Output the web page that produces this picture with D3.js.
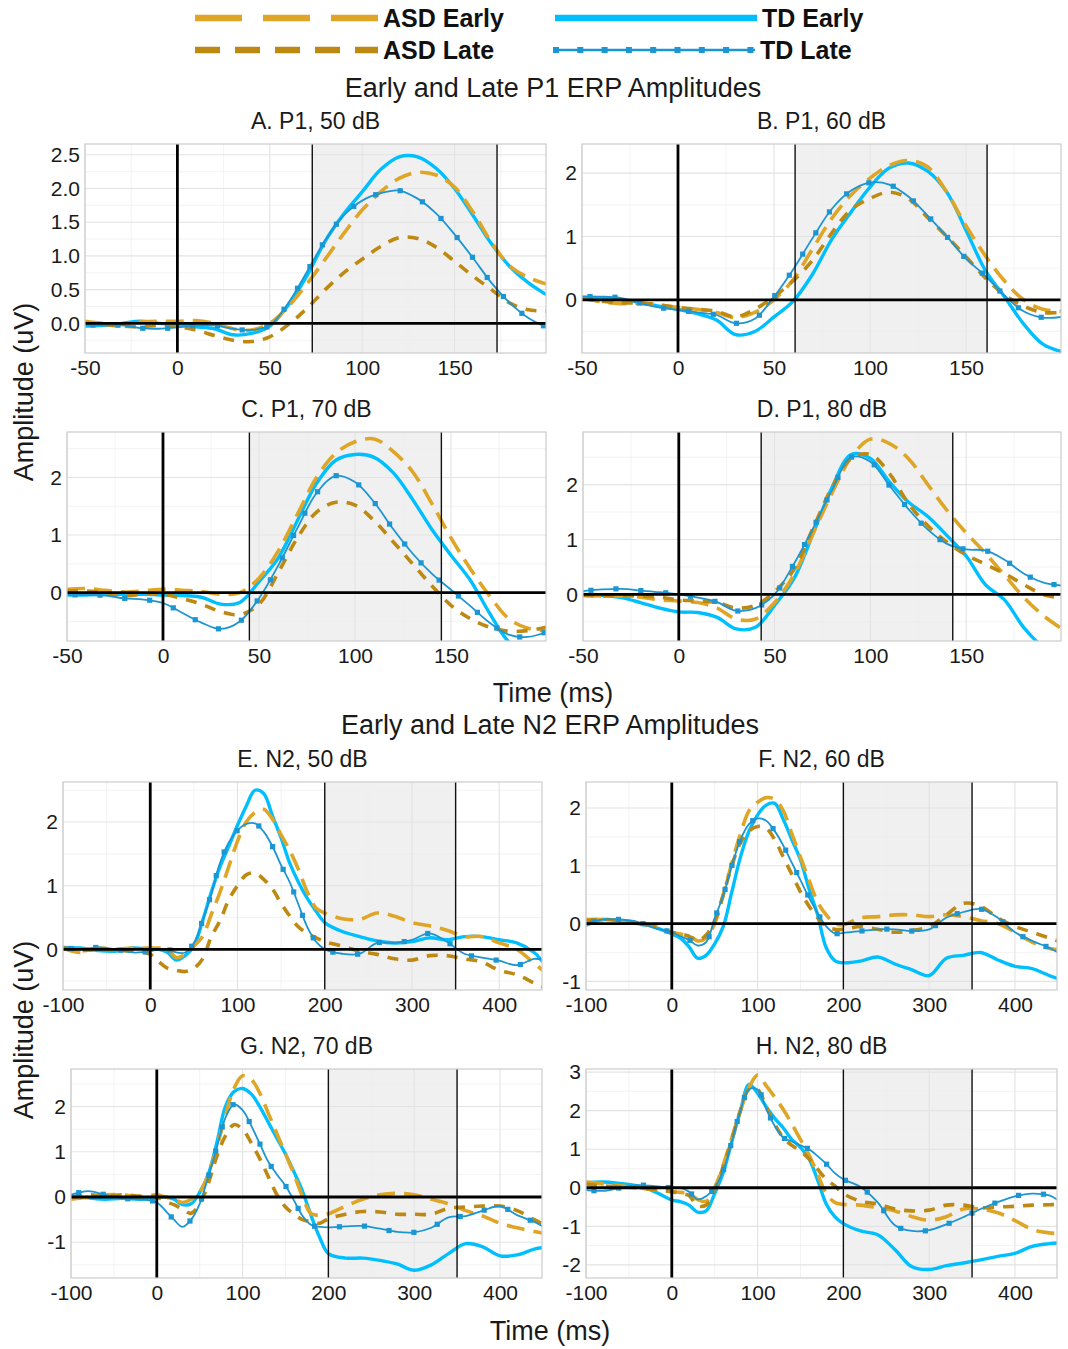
<!DOCTYPE html>
<html>
<head>
<meta charset="utf-8">
<script src="https://cdn.jsdelivr.net/npm/d3@7"></script>
<style>
  body { margin: 0; background: #fff; }
  text { font-family: "Liberation Sans", Arial, Helvetica, sans-serif; }
</style>
</head>
<body>
<svg id="chart" width="1068" height="1349"></svg>
<script>
// ERP waveforms, early vs late trials, ASD vs TD

// time grids (ms)
const p1Times = [-50,-40,-30,-20,-10,0,10,20,30,40,50,60,70,80,90,100,110,120,130,140,150,160,170,180,190,200];
const n2Times = [-100,-80,-60,-40,-20,0,10,20,30,40,50,60,70,80,90,100,110,120,130,140,150,160,170,180,190,200,220,240,260,280,300,320,340,360,380,400,420,440,450];

// A. P1, 50 dB
const aAsdEarly = [0.03,0.0,-0.01,0.02,0.03,0.03,0.04,0.0,-0.08,-0.1,0.0,0.25,0.58,0.95,1.33,1.68,1.95,2.15,2.24,2.2,2.02,1.65,1.2,0.85,0.68,0.58];
const aAsdLate  = [0.0,-0.02,-0.04,-0.05,-0.03,-0.05,-0.1,-0.18,-0.25,-0.27,-0.2,-0.02,0.22,0.5,0.75,0.95,1.14,1.27,1.26,1.13,0.92,0.7,0.5,0.3,0.2,0.18];
const aTdEarly  = [-0.04,-0.03,0.0,0.03,0.0,-0.02,-0.05,-0.08,-0.17,-0.15,-0.04,0.27,0.7,1.22,1.62,1.95,2.28,2.47,2.47,2.3,2.0,1.6,1.18,0.84,0.6,0.42];
const aTdLate   = [-0.02,-0.03,-0.03,-0.07,-0.08,-0.06,-0.03,-0.03,-0.08,-0.1,-0.03,0.3,0.76,1.23,1.6,1.82,1.93,1.97,1.85,1.63,1.32,0.97,0.6,0.3,0.08,-0.06];

// B. P1, 60 dB
const bAsdEarly = [0.03,-0.03,-0.06,-0.06,-0.08,-0.12,-0.15,-0.2,-0.28,-0.2,0.0,0.32,0.8,1.28,1.65,1.92,2.12,2.2,2.1,1.7,1.17,0.7,0.3,0.0,-0.15,-0.18];
const bAsdLate  = [0.02,-0.02,-0.05,-0.05,-0.08,-0.12,-0.15,-0.18,-0.27,-0.15,0.05,0.3,0.62,1.05,1.42,1.6,1.7,1.6,1.3,1.0,0.68,0.35,0.08,-0.1,-0.2,-0.2];
const bTdEarly  = [0.04,0.03,0.0,-0.04,-0.1,-0.15,-0.22,-0.32,-0.55,-0.5,-0.27,-0.02,0.4,0.95,1.38,1.78,2.08,2.16,2.03,1.7,1.1,0.47,0.05,-0.38,-0.7,-0.82];
const bTdLate   = [0.05,0.05,0.03,-0.05,-0.12,-0.16,-0.2,-0.24,-0.37,-0.3,0.05,0.48,0.97,1.43,1.72,1.85,1.82,1.63,1.33,1.0,0.65,0.38,0.07,-0.18,-0.28,-0.27];

// C. P1, 70 dB
const cAsdEarly = [0.06,0.07,0.04,0.01,0.03,0.06,0.04,0.02,-0.03,0.0,0.25,0.72,1.36,2.0,2.42,2.62,2.67,2.45,2.1,1.55,0.95,0.42,-0.05,-0.45,-0.62,-0.66];
const cAsdLate  = [0.03,0.03,0.0,-0.05,-0.03,-0.03,-0.1,-0.2,-0.33,-0.38,-0.2,0.35,0.95,1.4,1.57,1.52,1.25,0.88,0.5,0.12,-0.22,-0.45,-0.6,-0.67,-0.66,-0.6];
const cTdEarly  = [-0.04,-0.04,-0.03,-0.03,-0.03,-0.04,-0.05,-0.08,-0.2,-0.17,0.19,0.6,1.25,1.9,2.3,2.4,2.35,2.08,1.62,1.1,0.65,0.22,-0.35,-0.85,-1.05,-1.05];
const cTdLate   = [-0.04,-0.04,-0.05,-0.1,-0.12,-0.18,-0.35,-0.52,-0.63,-0.5,-0.1,0.47,1.12,1.73,2.03,1.92,1.57,1.1,0.68,0.33,0.05,-0.23,-0.52,-0.73,-0.77,-0.68];

// D. P1, 80 dB
const dAsdEarly = [-0.02,-0.03,-0.03,-0.05,-0.1,-0.12,-0.15,-0.25,-0.45,-0.45,-0.15,0.35,1.1,1.85,2.5,2.83,2.75,2.47,2.0,1.53,1.12,0.75,0.35,-0.05,-0.38,-0.63];
const dAsdLate  = [-0.02,-0.03,-0.03,-0.03,-0.05,-0.1,-0.12,-0.15,-0.25,-0.2,0.05,0.45,1.2,1.95,2.48,2.55,2.2,1.65,1.25,0.95,0.72,0.55,0.38,0.18,0.0,-0.07];
const dTdEarly  = [0.0,-0.02,-0.06,-0.15,-0.25,-0.32,-0.33,-0.42,-0.63,-0.6,-0.2,0.28,1.1,1.95,2.55,2.48,2.05,1.68,1.42,1.07,0.7,0.18,-0.1,-0.6,-0.95,-1.1];
const dTdLate   = [0.06,0.09,0.1,0.07,0.04,0.0,-0.06,-0.14,-0.3,-0.25,0.0,0.55,1.2,1.9,2.5,2.42,1.98,1.55,1.18,0.92,0.82,0.8,0.63,0.38,0.22,0.16];

// E. N2, 50 dB
const eAsdEarly = [0.02,-0.05,0.02,0.0,0.02,0.02,0.02,0.0,-0.13,-0.08,0.05,0.2,0.55,0.9,1.3,1.7,2.0,2.15,2.2,2.05,1.8,1.55,1.25,0.9,0.65,0.57,0.48,0.47,0.57,0.52,0.42,0.37,0.3,0.2,0.2,0.1,0.0,-0.22,-0.33];
const eAsdLate  = [0.03,-0.02,0.0,-0.02,-0.03,-0.08,-0.2,-0.3,-0.33,-0.35,-0.3,-0.15,0.2,0.45,0.78,1.0,1.17,1.2,1.1,0.95,0.72,0.52,0.35,0.25,0.18,0.12,0.05,-0.03,-0.08,-0.15,-0.17,-0.1,-0.1,-0.15,-0.2,-0.33,-0.4,-0.53,-0.59];
const eTdEarly  = [0.03,0.02,-0.02,-0.03,0.02,0.0,0.0,-0.05,-0.17,-0.1,0.05,0.45,0.9,1.3,1.62,1.95,2.25,2.5,2.45,2.1,1.75,1.35,1.05,0.8,0.6,0.42,0.28,0.2,0.13,0.1,0.12,0.18,0.15,0.2,0.2,0.15,0.1,-0.05,-0.2];
const eTdLate   = [0.03,0.0,0.03,0.0,-0.05,-0.03,0.0,0.0,-0.05,-0.05,0.1,0.45,0.87,1.36,1.68,1.87,1.97,1.98,1.85,1.62,1.32,1.05,0.7,0.35,0.12,0.0,-0.07,-0.07,0.1,0.1,0.15,0.25,0.12,-0.07,-0.13,-0.18,-0.25,-0.15,-0.17];

// F. N2, 60 dB
const fAsdEarly = [0.07,0.07,0.05,0.02,-0.05,-0.15,-0.18,-0.2,-0.3,-0.25,0.0,0.5,1.05,1.55,1.95,2.1,2.18,2.15,1.95,1.55,1.15,0.75,0.37,0.15,0.0,-0.02,0.1,0.12,0.15,0.15,0.12,0.15,0.12,0.05,0.0,-0.15,-0.32,-0.43,-0.45];
const fAsdLate  = [0.05,0.07,0.05,0.0,-0.05,-0.15,-0.18,-0.22,-0.3,-0.2,0.05,0.5,1.0,1.4,1.6,1.68,1.65,1.45,1.15,0.85,0.55,0.3,0.1,-0.05,-0.1,-0.1,-0.05,-0.1,-0.15,-0.12,-0.05,0.15,0.35,0.3,0.1,-0.05,-0.15,-0.25,-0.3];
const fTdEarly  = [-0.03,0.07,0.05,0.0,-0.06,-0.18,-0.25,-0.4,-0.6,-0.55,-0.35,-0.05,0.55,1.15,1.6,1.88,2.05,2.08,1.8,1.45,1.1,0.6,0.15,-0.42,-0.64,-0.68,-0.65,-0.58,-0.7,-0.8,-0.9,-0.6,-0.55,-0.5,-0.63,-0.74,-0.78,-0.9,-0.95];
const fTdLate   = [0.0,0.07,0.07,0.03,-0.08,-0.15,-0.22,-0.28,-0.38,-0.32,0.09,0.49,1.0,1.45,1.72,1.82,1.78,1.6,1.35,1.05,0.75,0.45,0.18,-0.05,-0.17,-0.16,-0.13,-0.1,-0.1,-0.13,-0.1,0.1,0.2,0.25,0.1,-0.15,-0.3,-0.42,-0.5];

// G. N2, 70 dB
const gAsdEarly = [-0.05,0.0,0.05,0.05,0.0,0.05,0.0,-0.05,-0.12,-0.05,0.1,0.5,1.1,1.8,2.4,2.68,2.6,2.3,1.85,1.4,0.95,0.5,0.0,-0.37,-0.4,-0.37,-0.2,-0.05,0.05,0.08,0.05,-0.05,-0.15,-0.3,-0.42,-0.58,-0.68,-0.76,-0.8];
const gAsdLate  = [0.0,0.05,0.02,0.05,0.02,0.0,-0.1,-0.17,-0.27,-0.36,-0.15,0.3,0.9,1.35,1.6,1.5,1.2,0.85,0.45,0.05,-0.22,-0.38,-0.5,-0.55,-0.58,-0.48,-0.38,-0.32,-0.33,-0.38,-0.38,-0.38,-0.25,-0.22,-0.2,-0.2,-0.3,-0.5,-0.6];
const gTdEarly  = [0.02,-0.02,-0.05,-0.03,-0.05,0.0,0.0,-0.05,-0.17,-0.15,0.1,0.5,1.2,2.0,2.33,2.4,2.28,2.0,1.65,1.3,0.95,0.55,0.12,-0.42,-0.9,-1.25,-1.35,-1.35,-1.4,-1.48,-1.62,-1.5,-1.25,-1.03,-1.1,-1.3,-1.28,-1.15,-1.12];
const gTdLate   = [0.05,0.13,0.05,-0.03,-0.05,-0.12,-0.3,-0.5,-0.66,-0.5,-0.15,0.45,1.1,1.75,2.05,1.92,1.58,1.18,0.78,0.5,0.25,-0.08,-0.42,-0.62,-0.66,-0.67,-0.65,-0.64,-0.7,-0.77,-0.78,-0.68,-0.45,-0.42,-0.3,-0.2,-0.4,-0.55,-0.65];

// H. N2, 80 dB
const hAsdEarly = [0.15,0.1,0.05,0.0,-0.05,-0.1,-0.12,-0.15,-0.3,-0.35,0.0,0.6,1.3,2.0,2.6,2.92,2.65,2.35,2.03,1.65,1.25,0.85,0.35,-0.15,-0.38,-0.43,-0.45,-0.52,-0.6,-0.75,-0.84,-0.75,-0.55,-0.55,-0.65,-0.85,-1.08,-1.17,-1.19];
const hAsdLate  = [0.1,0.05,0.03,0.0,-0.05,-0.1,-0.15,-0.2,-0.47,-0.45,-0.05,0.55,1.25,2.0,2.55,2.55,2.1,1.65,1.3,1.1,0.95,0.75,0.48,0.22,0.05,-0.15,-0.35,-0.42,-0.55,-0.6,-0.58,-0.45,-0.45,-0.52,-0.5,-0.48,-0.45,-0.44,-0.43];
const hTdEarly  = [0.13,0.15,0.11,0.05,-0.1,-0.32,-0.36,-0.45,-0.63,-0.6,-0.15,0.4,1.2,2.0,2.68,2.45,2.1,1.8,1.55,1.25,1.05,0.75,0.2,-0.42,-0.75,-0.93,-1.12,-1.22,-1.6,-2.05,-2.12,-2.02,-1.95,-1.87,-1.78,-1.7,-1.52,-1.45,-1.43];
const hTdLate   = [-0.06,-0.08,0.0,0.07,0.04,0.0,0.0,-0.1,-0.3,-0.22,0.0,0.45,1.2,2.0,2.55,2.55,2.05,1.6,1.3,1.2,1.1,1.0,0.82,0.62,0.38,0.22,0.02,-0.38,-0.97,-1.12,-1.1,-0.95,-0.76,-0.55,-0.37,-0.22,-0.15,-0.2,-0.32];

// tick labels
const p1XTicks = [-50, 0, 50, 100, 150];
const n2XTicks = [-100, 0, 100, 200, 300, 400];

const groupNames = ['ASD Early', 'ASD Late', 'TD Early', 'TD Late'];

const styles = {
    'TD Early':  { color: '#00bfff', width: 3.4, dash: null },
    'ASD Early': { color: '#dfa526', width: 3.6, dash: '18,9' },
    'ASD Late':  { color: '#bd8912', width: 3.6, dash: '11,9' },
    'TD Late':   { color: '#1c96d2', width: 1.8, dash: null, markers: true }
};

// plain hyphen for negatives, like the original
const fmt1 = d => d3.format('.1f')(d).replace('\u2212', '-');
const fmt0 = d => d3.format('d')(d).replace('\u2212', '-');

// panels: data + where they sit on the page
const panels = [
    { id: 'A', title: 'A. P1, 50 dB', times: p1Times, series: [aAsdEarly, aAsdLate, aTdEarly, aTdLate],
      xDomain: [-50, 199.5], xTicks: p1XTicks, yDomain: [-0.44, 2.66], yTicks: [0, 0.5, 1, 1.5, 2, 2.5], yFmt: fmt1,
      window: [73, 173], left: 85, right: 546, top: 144, bottom: 353 },
    { id: 'B', title: 'B. P1, 60 dB', times: p1Times, series: [bAsdEarly, bAsdLate, bTdEarly, bTdLate],
      xDomain: [-50, 199.5], xTicks: p1XTicks, yDomain: [-0.84, 2.46], yTicks: [0, 1, 2], yFmt: fmt0,
      window: [61, 161], left: 582, right: 1061, top: 144, bottom: 353 },
    { id: 'C', title: 'C. P1, 70 dB', times: p1Times, series: [cAsdEarly, cAsdLate, cTdEarly, cTdLate],
      xDomain: [-50, 199.5], xTicks: p1XTicks, yDomain: [-0.84, 2.79], yTicks: [0, 1, 2], yFmt: fmt0,
      window: [45, 145], left: 67, right: 546, top: 432, bottom: 641 },
    { id: 'D', title: 'D. P1, 80 dB', times: p1Times, series: [dAsdEarly, dAsdLate, dTdEarly, dTdLate],
      xDomain: [-50, 199.5], xTicks: p1XTicks, yDomain: [-0.85, 2.96], yTicks: [0, 1, 2], yFmt: fmt0,
      window: [43, 143], left: 583, right: 1061, top: 432, bottom: 641 },
    { id: 'E', title: 'E. N2, 50 dB', times: n2Times, series: [eAsdEarly, eAsdLate, eTdEarly, eTdLate],
      xDomain: [-100, 449], xTicks: n2XTicks, yDomain: [-0.64, 2.63], yTicks: [0, 1, 2], yFmt: fmt0,
      window: [200, 350], left: 63, right: 542, top: 782, bottom: 990 },
    { id: 'F', title: 'F. N2, 60 dB', times: n2Times, series: [fAsdEarly, fAsdLate, fTdEarly, fTdLate],
      xDomain: [-100, 449], xTicks: n2XTicks, yDomain: [-1.15, 2.45], yTicks: [-1, 0, 1, 2], yFmt: fmt0,
      window: [200, 350], left: 586, right: 1057, top: 782, bottom: 990 },
    { id: 'G', title: 'G. N2, 70 dB', times: n2Times, series: [gAsdEarly, gAsdLate, gTdEarly, gTdLate],
      xDomain: [-100, 449], xTicks: n2XTicks, yDomain: [-1.79, 2.83], yTicks: [-1, 0, 1, 2], yFmt: fmt0,
      window: [200, 350], left: 71, right: 542, top: 1069, bottom: 1278 },
    { id: 'H', title: 'H. N2, 80 dB', times: n2Times, series: [hAsdEarly, hAsdLate, hTdEarly, hTdLate],
      xDomain: [-100, 449], xTicks: n2XTicks, yDomain: [-2.34, 3.08], yTicks: [-2, -1, 0, 1, 2, 3], yFmt: fmt0,
      window: [200, 350], left: 586, right: 1057, top: 1069, bottom: 1278 }
];

const svg = d3.select('#chart');
svg.append('rect').attr('width', 1068).attr('height', 1349).attr('fill', '#fff');

// minor grid values sit halfway between major ticks
function minorTicks(ticks, domain) {
    const step = ticks[1] - ticks[0];
    const out = [];
    for (let v = ticks[0] - step / 2; v <= domain[1]; v += step) {
        if (v >= domain[0]) out.push(v);
    }
    return out;
}

function drawPanel(p) {
    const w = p.right - p.left, h = p.bottom - p.top;
    const x = d3.scaleLinear().domain(p.xDomain).range([0, w]);
    const y = d3.scaleLinear().domain(p.yDomain).range([h, 0]);
    const g = svg.append('g').attr('transform', `translate(${p.left},${p.top})`);

    const clipId = 'clip' + p.id;
    g.append('clipPath').attr('id', clipId)
        .append('rect').attr('width', w).attr('height', h);

    // shaded measurement window
    g.append('rect')
        .attr('x', x(p.window[0])).attr('width', x(p.window[1]) - x(p.window[0]))
        .attr('height', h).attr('fill', '#f0f0f0');

    // grid
    const grid = g.append('g');
    grid.selectAll('.xminor').data(minorTicks(p.xTicks, p.xDomain)).join('line')
        .attr('x1', d => x(d)).attr('x2', d => x(d)).attr('y1', 0).attr('y2', h)
        .attr('stroke', '#eeeeee').attr('stroke-width', 0.7);
    grid.selectAll('.yminor').data(minorTicks(p.yTicks, p.yDomain)).join('line')
        .attr('y1', d => y(d)).attr('y2', d => y(d)).attr('x1', 0).attr('x2', w)
        .attr('stroke', '#eeeeee').attr('stroke-width', 0.7);
    grid.selectAll('.xmajor').data(p.xTicks).join('line')
        .attr('x1', d => x(d)).attr('x2', d => x(d)).attr('y1', 0).attr('y2', h)
        .attr('stroke', '#e3e3e3').attr('stroke-width', 1.1);
    grid.selectAll('.ymajor').data(p.yTicks).join('line')
        .attr('y1', d => y(d)).attr('y2', d => y(d)).attr('x1', 0).attr('x2', w)
        .attr('stroke', '#e3e3e3').attr('stroke-width', 1.1);

    // curves
    const curves = g.append('g').attr('clip-path', `url(#${clipId})`);
    const line = d3.line().x(d => x(d[0])).y(d => y(d[1])).curve(d3.curveCatmullRom.alpha(0.5));
    const drawOrder = [2, 0, 1, 3]; // TD Early, ASD Early, ASD Late, TD Late
    drawOrder.forEach(i => {
        const name = groupNames[i];
        const st = styles[name];
        const pts = p.times.map((t, k) => [t, p.series[i][k]]);
        const path = curves.append('path')
            .attr('d', line(pts))
            .attr('fill', 'none')
            .attr('stroke', st.color)
            .attr('stroke-width', st.width)
            .attr('stroke-dasharray', st.dash)
            .attr('stroke-linejoin', 'round');
        if (st.markers) {
            const node = path.node();
            const len = node.getTotalLength();
            const marks = d3.range(8, len, 25).map(l => node.getPointAtLength(l));
            curves.selectAll('.mk' + p.id).data(marks).join('rect')
                .attr('x', d => d.x - 2.6).attr('y', d => d.y - 2.6)
                .attr('width', 5.2).attr('height', 5.2)
                .attr('fill', st.color);
        }
    });

    // reference lines
    g.append('line').attr('x1', 0).attr('x2', w).attr('y1', y(0)).attr('y2', y(0))
        .attr('stroke', '#000').attr('stroke-width', 2.8);
    g.append('line').attr('x1', x(0)).attr('x2', x(0)).attr('y1', 0).attr('y2', h)
        .attr('stroke', '#000').attr('stroke-width', 2.8);
    p.window.forEach(t => {
        g.append('line').attr('x1', x(t)).attr('x2', x(t)).attr('y1', 0).attr('y2', h)
            .attr('stroke', '#111').attr('stroke-width', 1.4);
    });

    // border
    g.append('rect').attr('width', w).attr('height', h)
        .attr('fill', 'none').attr('stroke', '#cccccc').attr('stroke-width', 1.2);

    // axes
    const yAxis = g.append('g')
        .call(d3.axisLeft(y).tickValues(p.yTicks).tickFormat(p.yFmt).tickSize(0).tickPadding(5));
    const xAxis = g.append('g').attr('transform', `translate(0,${h})`)
        .call(d3.axisBottom(x).tickValues(p.xTicks).tickFormat(fmt0).tickSize(0).tickPadding(7));
    [xAxis, yAxis].forEach(a => {
        a.select('.domain').remove();
        a.selectAll('text').attr('font-size', 21).attr('fill', '#1a1a1a')
            .style('font-family', '"Liberation Sans", Arial, sans-serif');
    });

    // panel title
    svg.append('text')
        .attr('x', (p.left + p.right) / 2).attr('y', p.top - 15)
        .attr('text-anchor', 'middle').attr('font-size', 23).attr('fill', '#1a1a1a')
        .text(p.title);
}

panels.forEach(drawPanel);

// section titles and axis titles
const bigText = [
    { text: 'Early and Late P1 ERP Amplitudes', x: 553, y: 97 },
    { text: 'Time (ms)', x: 553, y: 702 },
    { text: 'Early and Late N2 ERP Amplitudes', x: 550, y: 734 },
    { text: 'Time (ms)', x: 550, y: 1340 }
];
svg.selectAll('.big').data(bigText).join('text')
    .attr('x', d => d.x).attr('y', d => d.y)
    .attr('text-anchor', 'middle').attr('font-size', 27).attr('fill', '#1a1a1a')
    .text(d => d.text);

[392, 1030].forEach(cy => {
    svg.append('text')
        .attr('transform', `translate(33,${cy}) rotate(-90)`)
        .attr('text-anchor', 'middle').attr('font-size', 27).attr('fill', '#1a1a1a')
        .text('Amplitude (uV)');
});

// legend
const legend = svg.append('g');
const legendItems = [
    { name: 'ASD Early', x0: 195, x1: 378, y: 18, dash: '47,21', w: 6.5 },
    { name: 'ASD Late',  x0: 195, x1: 378, y: 50, dash: '25,15', w: 6.5 },
    { name: 'TD Early',  x0: 555, x1: 757, y: 18, dash: null, w: 6.5 },
    { name: 'TD Late',   x0: 555, x1: 755, y: 50, dash: null, w: 2.6 }
];
legendItems.forEach(it => {
    const st = styles[it.name];
    legend.append('line')
        .attr('x1', it.x0).attr('x2', it.x1).attr('y1', it.y).attr('y2', it.y)
        .attr('stroke', st.color).attr('stroke-width', it.w)
        .attr('stroke-dasharray', it.dash);
    if (st.markers) {
        legend.selectAll('.lm').data(d3.range(it.x0 + 1, it.x1 + 1, 24.3)).join('rect')
            .attr('x', d => d - 3).attr('y', it.y - 3).attr('width', 6).attr('height', 6)
            .attr('fill', st.color);
    }
    legend.append('text')
        .attr('x', it.x1 + 5).attr('y', it.y + 9)
        .attr('font-size', 25).attr('font-weight', 'bold').attr('fill', '#111')
        .text(it.name);
});
</script>
</body>
</html>
